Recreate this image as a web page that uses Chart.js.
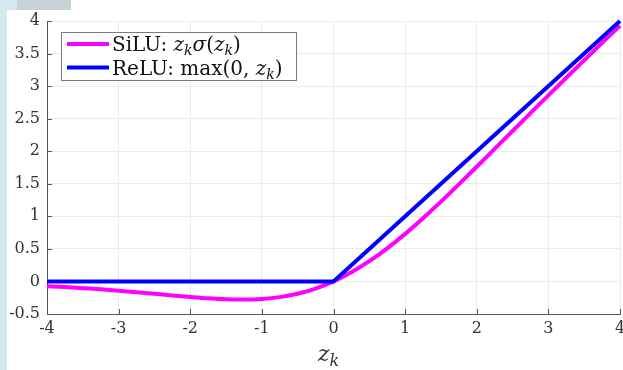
<!DOCTYPE html>
<html>
<head>
<meta charset="utf-8">
<script src="https://cdn.jsdelivr.net/npm/chart.js@4.4.1/dist/chart.umd.min.js"></script>
<style>
  html, body { margin: 0; padding: 0; background: #fff; }
  #wrap { position: relative; width: 623px; height: 370px; overflow: hidden; }
  #strip { position: absolute; left: 0; top: 0; width: 7px; height: 370px; background: #d4e8ef; }
  #block { position: absolute; left: 17px; top: 0; width: 54px; height: 10px; background: #c8d3d7; }
  #block2 { position: absolute; left: 7px; top: 0; width: 10px; height: 10px; background: #d4e8ef; }
  #box { position: absolute; left: 0; top: 0; width: 640px; height: 370px; }
</style>
</head>
<body>
<div id="wrap">
  <div id="strip"></div>
  <div id="block2"></div>
  <div id="block"></div>
  <div id="box"><canvas id="c" width="640" height="370"></canvas></div>
</div>
<script>
// z_k samples
const zValues = [-4, -3.75, -3.5, -3.25, -3, -2.75, -2.5, -2.25, -2, -1.75, -1.5, -1.25, -1, -0.75, -0.5, -0.25,
                 0, 0.25, 0.5, 0.75, 1, 1.25, 1.5, 1.75, 2, 2.25, 2.5, 2.75, 3, 3.25, 3.5, 3.75, 4];
// SiLU curve
const siluValues = [-0.072, -0.086, -0.103, -0.121, -0.142, -0.165, -0.190, -0.215, -0.238, -0.259, -0.274, -0.278,
                    -0.269, -0.241, -0.189, -0.110, 0, 0.141, 0.311, 0.509, 0.731, 0.972, 1.226, 1.491, 1.762,
                    2.036, 2.310, 2.585, 2.858, 3.129, 3.397, 3.664, 3.928];
// ReLU corners
const reluZ = [-4, 0, 4];
const reluValues = [0, 0, 4];

const xTicks = [-4, -3, -2, -1, 0, 1, 2, 3, 4];
const yTicks = [-0.5, 0, 0.5, 1, 1.5, 2, 2.5, 3, 3.5, 4];

const legendItems = [
  { color: '#ff00ff', parts: [['SiLU: ', 'n'], ['z', 'i'], ['k', 's'], ['σ', 'i'], ['(', 'n'], ['z', 'i'], ['k', 's'], [')', 'n']] },
  { color: '#0000ff', parts: [['ReLU: max(0, ', 'n'], ['z', 'i'], ['k', 's'], [')', 'n']] }
];

const SERIF = '"DejaVu Serif", "Liberation Serif", serif';
const AXIS = '#555555';

function richText(ctx, parts, x, y, size) {
  parts.forEach(([t, st]) => {
    if (st === 's') {
      ctx.font = 'italic ' + Math.round(size * 0.72) + 'px ' + SERIF;
      ctx.fillText(t, x, y + size * 0.22);
    } else {
      ctx.font = (st === 'i' ? 'italic ' : '') + size + 'px ' + SERIF;
      ctx.fillText(t, x, y);
    }
    x += ctx.measureText(t).width;
  });
}

const extras = {
  id: 'extras',
  beforeDatasetsDraw(chart) {
    const { ctx, scales: { x, y }, chartArea: a } = chart;
    ctx.save();
    ctx.strokeStyle = AXIS;
    ctx.lineWidth = 1;
    ctx.beginPath();
    xTicks.forEach(v => {
      const px = Math.round(x.getPixelForValue(v)) + 0.5;
      ctx.moveTo(px, a.bottom); ctx.lineTo(px, a.bottom - 5);
    });
    yTicks.forEach(v => {
      const py = Math.round(y.getPixelForValue(v)) + 0.5;
      ctx.moveTo(a.left, py); ctx.lineTo(a.left + 5, py);
    });
    ctx.stroke();
    ctx.restore();
  },
  afterDraw(chart) {
    const { ctx } = chart;
    ctx.save();
    // legend
    const bx = 61.5, by = 32.5, bw = 235, bh = 48;
    ctx.fillStyle = '#fff';
    ctx.fillRect(bx, by, bw, bh);
    ctx.strokeStyle = '#7a7a7a';
    ctx.lineWidth = 1;
    ctx.strokeRect(bx, by, bw, bh);
    legendItems.forEach((it, i) => {
      const ly = 44 + i * 23.5;
      ctx.strokeStyle = it.color;
      ctx.lineWidth = 4;
      ctx.beginPath();
      ctx.moveTo(67, ly); ctx.lineTo(109, ly);
      ctx.stroke();
      ctx.fillStyle = '#111';
      ctx.textBaseline = 'alphabetic';
      ctx.textAlign = 'left';
      richText(ctx, it.parts, 112, ly + 7, 20);
    });
    // x-axis title z_k
    ctx.fillStyle = '#333';
    richText(ctx, [['z', 'i'], ['k', 's']], 318, 361, 22);
    ctx.restore();
  }
};

new Chart(document.getElementById('c'), {
  type: 'line',
  data: {
    datasets: [
      {
        label: 'SiLU',
        data: zValues.map((z, i) => ({ x: z, y: siluValues[i] })),
        borderColor: '#ff00ff',
        borderWidth: 4,
        pointRadius: 0,
        tension: 0.4,
        cubicInterpolationMode: 'monotone',
        order: 1
      },
      {
        label: 'ReLU',
        data: reluZ.map((z, i) => ({ x: z, y: reluValues[i] })),
        borderColor: '#0000ff',
        borderWidth: 4,
        pointRadius: 0,
        tension: 0,
        order: 0
      }
    ]
  },
  options: {
    responsive: false,
    animation: false,
    clip: false,
    layout: { padding: { top: 21, right: 20, left: 0, bottom: 0 } },
    plugins: { legend: { display: false }, tooltip: { enabled: false } },
    scales: {
      x: {
        type: 'linear',
        min: -4, max: 4,
        afterBuildTicks: s => { s.ticks = xTicks.map(v => ({ value: v })); },
        afterFit: s => { s.height = 56; },
        grid: { color: '#ebebeb', drawTicks: false },
        border: { color: AXIS },
        ticks: { color: '#333', padding: 5, font: { family: SERIF, size: 16 }, maxRotation: 0,
                 callback: v => String(v) }
      },
      y: {
        min: -0.5, max: 4,
        afterBuildTicks: s => { s.ticks = yTicks.map(v => ({ value: v })); },
        afterFit: s => { s.width = 47; },
        grid: { color: '#ebebeb', drawTicks: false },
        border: { color: AXIS },
        ticks: { color: '#333', padding: 7, font: { family: SERIF, size: 16 },
                 callback: v => String(v) }
      }
    }
  },
  plugins: [extras]
});
</script>
</body>
</html>
